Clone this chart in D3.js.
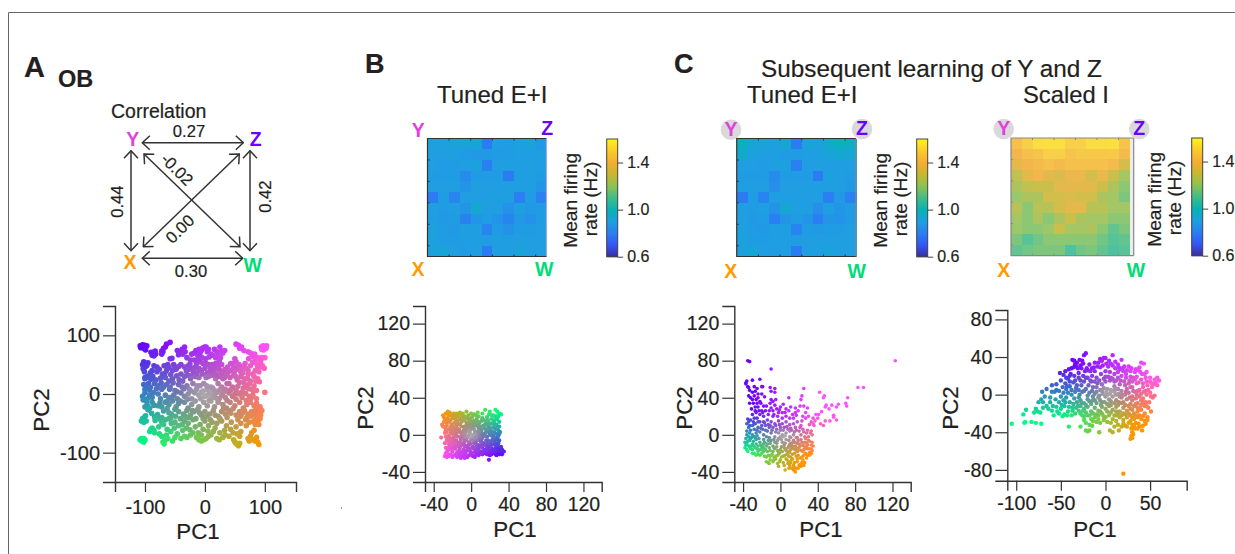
<!DOCTYPE html>
<html>
<head>
<meta charset="utf-8">
<script src="https://cdn.jsdelivr.net/npm/d3@7"></script>
<style>
  html, body { margin: 0; padding: 0; background: #fff; }
  svg { display: block; font-family: "Liberation Sans", Arial, sans-serif; }
  text { fill: #231f20; stroke: #231f20; stroke-width: 0.2px; }
</style>
</head>
<body>
<div id="figure"></div>
<script>
// firing rate colour bar
var cbarValues = [0.6, 0.7, 0.8, 0.9, 1.0, 1.1, 1.2, 1.3, 1.4, 1.5, 1.6];
var cbarColors = ["#3a2c9c", "#3556f5", "#2a7ff2", "#1f9fe2", "#06b3b6", "#3cbd8a", "#8cc254", "#c6b830", "#f4ad32", "#fbca2c", "#fdf41a"];
var cbarTicks = [0.6, 1.0, 1.4];

// mean firing rate on the 11x11 stimulus grid, row 0 on top
var tunedB = [
  [0.90, 0.91, 0.92, 0.92, 0.93, 0.79, 0.90, 0.89, 0.91, 0.92, 0.88],
  [0.90, 0.90, 0.90, 0.89, 0.88, 0.88, 0.89, 0.89, 0.90, 0.90, 0.90],
  [0.90, 0.89, 0.89, 0.90, 0.91, 0.80, 0.90, 0.90, 0.90, 0.90, 0.90],
  [0.89, 0.89, 0.89, 0.84, 0.89, 0.89, 0.89, 0.79, 0.90, 0.90, 0.89],
  [0.90, 0.90, 0.90, 0.87, 0.90, 0.90, 0.90, 0.90, 0.90, 0.90, 0.87],
  [0.79, 0.89, 0.82, 0.90, 0.90, 0.90, 0.90, 0.90, 0.80, 0.89, 0.81],
  [0.90, 0.89, 0.90, 0.87, 0.94, 0.90, 0.90, 0.86, 0.90, 0.88, 0.89],
  [0.90, 0.88, 0.89, 0.81, 0.87, 0.89, 0.87, 0.82, 0.88, 0.86, 0.89],
  [0.91, 0.89, 0.88, 0.90, 0.90, 0.82, 0.89, 0.86, 0.89, 0.89, 0.90],
  [0.91, 0.89, 0.89, 0.90, 0.90, 0.89, 0.90, 0.90, 0.90, 0.90, 0.90],
  [0.91, 0.93, 0.90, 0.89, 0.90, 0.79, 0.90, 0.90, 0.92, 0.90, 0.90]
];
var tunedC = [
  [0.98, 0.93, 0.92, 0.91, 0.94, 0.79, 0.92, 0.91, 0.95, 0.98, 0.97],
  [0.95, 0.91, 0.90, 0.90, 0.89, 0.89, 0.90, 0.90, 0.92, 0.94, 0.93],
  [0.90, 0.90, 0.89, 0.90, 0.91, 0.80, 0.90, 0.90, 0.90, 0.90, 0.90],
  [0.89, 0.89, 0.89, 0.84, 0.89, 0.89, 0.89, 0.79, 0.91, 0.90, 0.89],
  [0.90, 0.90, 0.90, 0.85, 0.90, 0.90, 0.90, 0.90, 0.90, 0.90, 0.88],
  [0.79, 0.89, 0.82, 0.90, 0.90, 0.90, 0.90, 0.90, 0.80, 0.88, 0.81],
  [0.90, 0.89, 0.90, 0.86, 0.94, 0.90, 0.90, 0.85, 0.90, 0.87, 0.89],
  [0.90, 0.88, 0.89, 0.80, 0.87, 0.89, 0.87, 0.80, 0.87, 0.86, 0.89],
  [0.91, 0.89, 0.88, 0.90, 0.90, 0.82, 0.89, 0.88, 0.89, 0.89, 0.90],
  [0.91, 0.89, 0.89, 0.90, 0.90, 0.89, 0.90, 0.90, 0.90, 0.90, 0.90],
  [0.91, 0.93, 0.90, 0.89, 0.90, 0.79, 0.90, 0.90, 0.92, 0.90, 0.90]
];
var scaledC = [
  [1.44, 1.50, 1.54, 1.55, 1.55, 1.50, 1.50, 1.54, 1.54, 1.55, 1.46],
  [1.40, 1.44, 1.46, 1.50, 1.50, 1.46, 1.48, 1.48, 1.48, 1.48, 1.42],
  [1.36, 1.40, 1.42, 1.44, 1.42, 1.44, 1.44, 1.44, 1.44, 1.42, 1.32],
  [1.28, 1.36, 1.40, 1.36, 1.34, 1.38, 1.38, 1.32, 1.38, 1.30, 1.22],
  [1.24, 1.28, 1.30, 1.30, 1.36, 1.36, 1.36, 1.36, 1.30, 1.24, 1.18],
  [1.20, 1.24, 1.24, 1.32, 1.32, 1.34, 1.32, 1.32, 1.24, 1.22, 1.16],
  [1.26, 1.18, 1.26, 1.26, 1.32, 1.36, 1.36, 1.26, 1.26, 1.22, 1.22],
  [1.22, 1.18, 1.24, 1.18, 1.24, 1.30, 1.24, 1.22, 1.22, 1.18, 1.18],
  [1.20, 1.18, 1.18, 1.20, 1.30, 1.22, 1.22, 1.24, 1.18, 1.12, 1.16],
  [1.16, 1.10, 1.14, 1.18, 1.18, 1.18, 1.18, 1.18, 1.14, 1.10, 1.12],
  [1.12, 1.14, 1.16, 1.16, 1.16, 1.08, 1.14, 1.16, 1.12, 1.08, 1.10]
];

// PC1, PC2
var obPoints = [
  [-108,82],[-104,84],[-100,83],[-102,78],[-97,82],[-100,79],[-90,71],[-86,71],[-83,73],[-88,66],[-82,68],[-85,65],
  [-72,73],[-69,78],[-66,80],[-70,72],[-64,85],[-58,88],[-72,68],[-46,74],[-42,72],[-38,76],[-44,67],[-37,68],[-34,80],[-33,72],
  [-102,55],[-98,52],[-104,50],[-100,46],[-97,48],[-103,43],[-85,48],[-80,46],[-88,40],[-80,38],[-92,32],[-96,30],[-100,28],[-94,28],
  [-68,48],[-62,50],[-58,60],[-55,61],[-60,45],[-52,50],[-50,45],[-54,40],[-48,42],[-64,40],
  [-22,68],[-18,70],[-15,74],[-12,66],[-10,76],[-6,74],[-4,78],[-2,79],[0,80],[2,80],[-8,70],[4,72],[6,76],[10,68],[13,66],[16,76],[20,72],[25,80],[28,73],[22,66],[18,62],[26,62],[30,70],[33,74],
  [52,85],[56,83],[58,78],[61,80],[65,74],[72,72],[76,70],[94,80],[97,82],[100,80],[95,76],[102,78],[98,75],[103,82],
  [-30,62],[-24,58],[-18,58],[-14,52],[-8,55],[-3,52],[2,52],[6,50],[12,50],[18,52],[24,56],[28,50],[50,60],[52,55],[46,52],[84,58],[88,62],[95,62],[100,62],[80,54],[76,48],
  [-44,47],[-40,50],[-34,46],[-28,48],[-26,42],[-22,44],[-16,46],[-10,44],[-6,40],[0,44],[4,36],[10,40],[16,45],[22,42],[26,40],[30,36],[34,42],[38,46],[44,40],[48,45],[56,42],[62,46],[68,44],[72,40],[84,40],[88,44],[92,46],[96,48],[90,38],[80,34],[60,38],
  [-40,34],[-34,30],[-28,32],[-24,26],[-20,34],[-16,30],[-10,28],[-4,34],[2,28],[6,30],[12,32],[18,26],[24,30],[30,26],[36,32],[42,28],[48,32],[54,24],[60,30],[66,26],[72,34],[76,22],[82,30],[88,26],
  [-100,26],[-90,25],[-82,24],[-74,27],[-66,28],[-60,22],[-54,26],
  [-102,16],[-98,12],[-94,18],[-100,8],[-92,7],[-84,18],[-78,14],[-72,8],[-64,16],[-58,12],[-50,6],[-44,16],[-38,12],[-30,14],[-26,8],[-20,18],[-14,8],[-8,14],[-2,18],[4,8],[10,12],[16,6],[22,18],[28,12],[34,8],[40,18],[46,12],[52,6],[58,20],[64,10],[70,14],[74,18],[78,8],[82,14],[86,6],[100,3],
  [-104,-4],[-100,2],[-96,-8],[-92,-2],[-88,-6],[-86,2],[-78,0],[-74,-8],[-66,-2],[-60,-6],[-52,-2],[-46,-8],[-40,2],[-34,-4],[-28,0],[-22,-8],[-10,-2],[-6,3],[0,-4],[4,-2],[8,2],[12,-6],[16,-1],[20,3],[24,-8],[28,-2],[34,-6],[40,2],[46,-4],[52,-9],[56,0],[62,-6],[68,1],[74,-4],[80,-2],[86,-8],
  [-100,-22],[-96,-20],[-92,-24],[-88,-14],[-78,-20],[-72,-22],[-66,-14],[-60,-18],[-54,-12],[-48,-22],[-44,-16],[-34,-14],[-28,-24],[-22,-18],[-16,-12],[-10,-22],[-2,-14],[4,-20],[10,-12],[16,-22],[22,-14],[30,-18],[36,-24],[42,-14],[50,-20],[58,-14],[64,-24],[70,-18],[76,-14],[82,-20],[88,-24],[92,-22],[86,-16],
  [-60,-32],[-56,-34],[-50,-26],[-44,-30],[-36,-34],[-30,-28],[-24,-36],[-18,-30],[-12,-26],[-6,-36],[0,-30],[8,-34],[14,-28],[22,-38],[28,-30],[34,-34],[40,-28],[52,-36],[58,-30],[60,-38],[66,-28],[72,-34],[78,-30],[84,-36],[90,-32],[70,-40],[84,-28],
  [-106,-46],[-104,-42],[-101,-40],[-102,-48],[-98,-46],[-84,-39],[-78,-42],[-72,-40],[-66,-44],[-72,-48],[-60,-42],[-56,-50],[-50,-48],[-44,-54],[-38,-52],[-34,-46],[-28,-50],[-20,-44],[-16,-56],[-8,-52],[0,-46],[6,-54],[12,-48],[20,-50],[28,-46],[36,-54],[44,-48],[52,-56],[60,-50],[68,-44],[74,-48],[84,-44],[88,-48],[90,-52],[84,-52],[92,-42],
  [-108,-78],[-105,-80],[-102,-82],[-100,-78],[-106,-76],[-102,-76],[-90,-60],[-88,-58],[-85,-62],[-92,-64],[-84,-66],
  [-76,-68],[-72,-72],[-70,-82],[-68,-85],[-66,-78],[-64,-70],[-62,-76],[-54,-80],[-50,-74],[-46,-68],[-40,-76],[-34,-72],[-30,-74],
  [-24,-70],[-20,-66],[-14,-74],[-10,-78],[-6,-80],[-2,-78],[2,-76],[-6,-70],[6,-72],[10,-70],[14,-64],[20,-76],[24,-78],[30,-74],[34,-70],[40,-72],[48,-78],[50,-82],[54,-86],[56,-88],[52,-84],[58,-84],[58,-72],[60,-64],[54,-68],
  [74,-80],[76,-72],[78,-66],[80,-78],[84,-80],[88,-82],[90,-86],[86,-74],[82,-62],[72,-76],
  [-107,79],[-99,75],[-95,53],[-101,38],[-91,36],[-87,30],[-76,42],[-71,34],[-73,19],[-67,35],[-57,33],[-53,19],[-47,31],[-43,24],[-37,22],[-31,39],[-25,51],[-19,39],[-13,36],[-11,60],[-5,62],[1,60],[7,63],[9,44],[15,37],[19,33],[23,48],[27,34],[33,28],[37,18],[39,37],[43,52],[49,38],[51,30],[53,46],[57,50],[63,36],[67,52],[71,27],[73,60],[79,64],[83,68],[87,50],[93,56],[99,44],[91,21],[85,22],[81,5],[77,-7],[73,9],[69,-11],[65,19],[61,3],[55,13],[49,-1],[43,7],[37,-11],[31,3],[25,7],[19,-7],[13,10],[7,-11],[3,14],[-3,5],[-7,-8],[-13,14],[-17,2],[-23,5],[-29,-9],[-35,9],[-41,-12],[-47,4],[-55,-5],[-59,8],[-63,-12],[-69,12],[-75,-15],[-81,9],[-85,-19],[-91,12],[-97,-13],[-103,-10],[-95,-27],[-99,-37],[-89,-33],[-83,-45],[-79,-35],[-69,-29],[-63,-25],[-57,-41],[-49,-38],[-41,-42],[-33,-38],[-27,-40],[-21,-28],[-15,-42],[-9,-32],[-3,-42],[3,-38],[9,-44],[17,-36],[25,-42],[31,-25],[37,-40],[43,-33],[47,-25],[55,-44],[63,-32],[69,-54],[77,-38],[81,-47],[89,-40],[93,-36],[95,-28],[-37,-62],[-31,-58],[-25,-61],[-11,-66],[-3,-60],[5,-63],[17,-58],[25,-66],[33,-62],[43,-60],[47,-66],[-51,-58],[-57,-64],[-63,-60],[-77,-56],[-69,-52]
];
var tunedPoints = [
  [-30,21],[-27,23],[-25,25],[-24,21],[-22,21],[-19,23],[-16,23],[-14,22],[-12,24],[-5,25],[-3,21],[0,23],[3,22],[5,21],[8,20],[12,23],[15,27],[20,25],[22,21],[26,27],[28,25],[30,23],[27,20],[24,21],[-20,20],[-10,21],[-7,20],
  [-28,17],[-25,18],[-22,16],[-20,18],[-17,17],[-15,15],[-12,18],[-10,14],[-7,16],[-4,18],[-2,15],[1,19],[3,15],[6,17],[9,13],[12,18],[15,15],[17,19],[19,13],[22,17],[25,15],[28,17],[30,14],[26,19],[-26,13],[-18,13],[-5,13],
  [-31,11],[-28,8],[-26,10],[-24,6],[-21,11],[-19,7],[-16,10],[-13,6],[-10,9],[-8,5],[-5,10],[-2,7],[0,11],[3,6],[5,10],[8,7],[11,4],[13,10],[16,6],[18,10],[21,5],[24,8],[27,11],[29,5],[30,9],[22,12],
  [-26,3],[-24,-1],[-22,2],[-19,-3],[-17,1],[-14,-2],[-12,3],[-9,-1],[-6,2],[-4,-3],[-1,1],[2,-2],[4,3],[7,-1],[9,2],[12,-3],[14,1],[17,-2],[19,3],[22,-1],[25,2],[28,-3],[30,1],[-32,-3],[-27,-2],
  [-26,-6],[-24,-10],[-21,-5],[-19,-9],[-16,-6],[-14,-11],[-11,-5],[-8,-9],[-5,-6],[-3,-11],[0,-5],[3,-9],[6,-6],[8,-11],[11,-5],[13,-9],[16,-6],[18,-11],[21,-7],[24,-10],[27,-5],[29,-9],[30,-6],[-22,-11],
  [-27,-14],[-25,-17],[-22,-13],[-20,-18],[-17,-15],[-15,-19],[-12,-14],[-10,-18],[-7,-13],[-5,-17],[-2,-15],[0,-19],[2,-13],[5,-17],[7,-14],[10,-18],[12,-14],[14,-17],[17,-13],[19,-18],[22,-15],[24,-19],[26,-14],[28,-17],[30,-19],[32,-13],[33,-16],[34,-18],[31,-15],
  [-28,-23],[-26,-24],[-25,-21],[-27,-20],[-22,-21],[-18,-22],[-15,-24],[-13,-22],[-11,-25],[-9,-23],[-6,-21],[-4,-24],[-2,-22],[2,-23],[5,-21],[8,-22],[12,-21],[15,-20],[19,-27],[22,-21],[25,-20],[28,-20],[33,-21],[35,-18],
  [-23,14],[-20,9],[-17,5],[-14,12],[-11,16],[-9,3],[-7,9],[-3,12],[-1,5],[1,14],[4,12],[6,3],[10,9],[14,7],[16,12],[20,8],[23,3],[26,6],[28,1],[-25,-4],[-20,-7],[-16,-1],[-12,-8],[-8,-4],[-6,-12],[-2,-8],[1,-3],[4,-7],[6,-12],[9,-4],[12,-9],[15,-1],[18,-6],[20,-10],[23,-5],[26,-9],[-24,-14],[-18,-11],[-13,-17],[-8,-16],[-4,-13],[-1,-18],[3,-15],[8,-16],[11,-12],[15,-16],[20,-14],[23,-17],[27,-12],[29,-13],[-29,14],[-27,5],[-22,8],[-15,20],[-8,18],[1,8],[7,14],[13,16],[18,16],[24,13],[28,9],[-10,0],[-3,-1],[4,0],[10,-1],[-18,3],[-5,5],[12,1],[20,0],[25,-3],[-19,-14],[-9,-20],[6,-19],[16,-19],[26,-18],
  [-29,19],[-23,24],[-17,20],[-9,23],[-1,17],[7,24],[11,15],[19,22],[29,20],[32,22],[-30,9],[-25,15],[-21,5],[-15,7],[-12,11],[-6,7],[-3,9],[2,9],[7,10],[10,6],[15,11],[19,7],[25,11],[31,3],[-28,2],[-23,-3],[-20,1],[-15,3],[-11,-3],[-7,-1],[-2,3],[1,0],[5,-3],[8,4],[13,-1],[16,3],[21,2],[24,-1],[29,-1],[-28,-9],[-23,-7],[-18,-5],[-15,-8],[-10,-11],[-7,-7],[-1,-10],[2,-6],[5,-9],[10,-7],[14,-11],[17,-9],[22,-11],[25,-7],[28,-11],[-26,-19],[-21,-16],[-16,-13],[-11,-20],[-6,-19],[-3,-15],[1,-14],[4,-19],[9,-13],[13,-19],[18,-15],[21,-19],[25,-16],[29,-16],[32,-17],[-24,-23],[-20,-24],[-16,-21],[-7,-25],[0,-21],[4,-24],[10,-20],[17,-21],[20,-22],[27,-22],[30,-21]
];
var learnedTunedPoints = [
  [-35,80],[-33,79],[123,80],[83,51],[89,51],[-10,71],[-22,60],[-36,58],[-37,55],[-30,59],[-35,52],[-37,56],
  [-34,51],[-33,48],[-28,52],[-25,50],[-20,52],[-19,52],[-11,51],[-6,50],[-10,47],[-6,46],[-30,46],[-27,47],[-24,44],[-20,44],[-17,41],[-34,42],[-32,40],[-30,38],[-28,42],[-26,38],[-24,40],[-22,36],[-29,34],[-25,34],[-21,34],[-18,31],[-24,30],[-27,30],[-5,38],[-8,36],[-10,38],[9,40],[25,50],[42,46],[47,42],[46,40],[23,42],[22,38],[-6,32],[-10,29],[-12,26],[-8,26],[-4,28],[0,30],[3,33],[6,28],[2,24],[-2,24],[5,24],[9,26],[13,22],[16,24],[16,29],[19,26],[14,18],[10,18],[6,20],[2,18],[-3,20],[-8,20],[-13,22],[-16,26],[-20,26],[-18,20],[-22,22],[-26,24],[-30,22],[-34,14],[-32,16],[-28,18],[-25,18],[-22,14],[-18,14],[-14,16],[-10,14],[-6,12],[-2,15],[2,12],[6,14],[10,11],[14,12],[18,14],[22,10],[24,20],[27,24],[21,31],[25,31],[29,29],[30,20],[33,14],[36,10],[38,22],[40,18],[43,12],[46,10],[48,15],[44,25],[48,30],[52,28],[57,21],[53,15],[60,16],[57,19],[55,32],[62,33],[60,30],[72,40],[70,34],[71,31],[49,32],[35,12],
  [-36,12],[-34,8],[-32,5],[-36,4],[-30,10],[-27,12],[-24,8],[-28,6],[-20,10],[-16,10],[-12,8],[-8,8],[-4,6],[0,8],[4,8],[8,6],[12,5],[16,8],[20,4],[24,6],[28,2],[32,2],[-36,0],[-34,-2],[-30,0],[-26,2],[-22,3],[-18,0],[-14,4],[-10,2],[-6,-2],[-2,2],[2,0],[6,2],[10,-2],[14,0],[18,-3],[22,0],[26,-2],[30,-2],[34,0],[-38,-8],[-36,-10],[-33,-6],[-30,-10],[-26,-5],[-22,-8],[-18,-5],[-14,-10],[-10,-6],[-6,-8],[-2,-4],[2,-8],[6,-5],[10,-10],[14,-6],[18,-9],[22,-5],[26,-8],[30,-6],[34,-8],[35,-12],
  [-38,-14],[-36,-16],[-33,-13],[-30,-16],[-27,-14],[-24,-18],[-20,-13],[-16,-16],[-12,-14],[-8,-18],[-4,-13],[0,-16],[4,-14],[8,-18],[12,-13],[16,-16],[20,-14],[24,-18],[28,-13],[31,-15],[34,-17],[-35,-18],[-28,-20],[-24,-21],[-20,-20],[-17,-23],[-13,-22],[-9,-21],[-5,-23],[-1,-20],[3,-23],[7,-21],[11,-24],[15,-20],[19,-22],[23,-24],[27,-20],[31,-19],[33,-20],
  [-15,-29],[-13,-30],[-11,-27],[-8,-29],[-5,-26],[-3,-31],[-2,-34],[0,-27],[3,-30],[6,-26],[9,-29],[12,-27],[15,-30],[18,-26],[21,-32],[24,-27],[26,-30],[5,-38],[9,-36],[12,-36],[14,-38],[16,-40],[17,-36],[20,-33],[22,-34],[25,-33],[15,-35],[10,-33],[28,-25],
  [-32,-4],[-28,-2],[-24,-12],[-18,-10],[-12,-3],[-8,-12],[-4,-9],[0,-2],[4,-11],[8,-14],[12,-9],[16,-12],[20,-10],[24,-11],[28,-9],[-20,-16],[-14,-18],[-6,-15],[-2,-19],[2,-18],[6,-17],[10,-19],[14,-15],[18,-18],[22,-17],[26,-15],[0,5],[5,-1],[-5,3],[10,4],[15,3],[-15,-2],[-25,-1],[-33,2],[-31,-12],[-26,-10],[-16,5],[-11,10],[-24,14],[-28,12],[-19,6],
  [-33,34],[-31,28],[-27,26],[-23,26],[-19,24],[-15,31],[-11,34],[-7,22],[-1,27],[11,30],[17,21],[23,15],[27,18],[31,11],[37,15],[41,22],[35,18],[-35,17],[-33,10],[-29,14],[-25,5],[-21,7],[-17,13],[-13,11],[-9,5],[-5,10],[-1,11],[3,5],[7,9],[11,7],[17,5],[21,8],[25,3],[29,5],[33,4],[-37,-4],[-35,-7],[-31,-3],[-29,-7],[-27,-3],[-23,-4],[-21,-11],[-17,-8],[-13,-6],[-11,-9],[-7,-5],[-3,-6],[1,-5],[3,-2],[5,-9],[9,-6],[11,-3],[13,-12],[15,-8],[17,-3],[19,-6],[23,-8],[25,-12],[27,-4],[29,-11],[31,-7],[33,-11],[-37,-11],[-34,-12],[-32,-15],[-29,-12],[-25,-15],[-22,-16],[-18,-14],[-15,-12],[-11,-17],[-7,-14],[-3,-17],[1,-13],[5,-15],[9,-12],[11,-16],[13,-21],[17,-14],[19,-17],[21,-12],[25,-16],[29,-15],[33,-15],[-30,-20],[-26,-22],[-22,-22],[-18,-18],[-15,-24],[-11,-23],[-7,-24],[-3,-22],[1,-24],[5,-22],[9,-23],[13,-26],[17,-23],[21,-25],[25,-22],[29,-22],[31,-22],[-12,-31],[-7,-27],[-1,-29],[4,-33],[8,-31],[11,-30],[14,-33],[18,-29],[23,-30],[19,-36],[7,-27]
];
var scaledPoints = [
  [20,-84],[-105,-31],[-92,-21],[-91,-30],[-90,-29],[-89,-16],[-83,-29],[-78,-30],[-72,-31],[-80,-19],[-78,-15],[-76,-18],[-73,-19],[-72,-5],[-75,-8],[-70,-8],[-66,-12],[-71,3],[-66,6],[-70,-14],[-64,-15],[-60,-17],[-58,-22],[-48,-23],[-46,-21],[-52,-20],[-41,-34],[-28,-34],[-22,-38],[-20,-39],[-18,-38],[-7,-40],[5,-38],[8,-40],[15,-38],
  [-37,37],[-35,36],[-32,34],[-29,37],[-24,42],[-22,44],[-26,36],[-28,31],[-33,30],[-36,29],[-38,28],[-41,27],[-47,21],[-51,23],[-45,25],[-50,15],[-55,11],[-42,17],[-40,14],[-35,20],[-30,23],[-23,25],[-20,26],[-15,28],[-12,25],[-9,30],[-6,38],[-4,36],[-2,39],[0,39],[4,36],[8,42],[14,32],[18,37],[21,30],[26,30],[-12,34],[-18,32],[-6,29],[3,30],[8,31],[11,28],[16,27],[20,25],[24,26],[28,25],[33,24],[37,26],[40,34],[43,33],[39,24],[44,22],[-15,20],[-10,18],[-5,22],[0,25],[5,24],[10,22],[14,18],[18,20],[23,18],[27,15],[31,18],[35,12],[40,16],[45,18],[50,18],[55,16],[58,18],[60,15],[58,10],[52,12],[47,10],[42,8],[38,5],[33,3],[28,8],[22,10],[16,11],[10,14],[5,15],[0,14],[-4,11],[-9,12],[-14,8],[-19,10],[-24,14],[-28,15],[-32,10],[-36,13],[-40,9],[-44,6],[-48,8],[-52,4],[-57,3],[-60,3],[-62,-3],
  [-50,-2],[-47,-6],[-44,-3],[-52,-8],[-42,2],[-38,0],[-34,3],[-30,-3],[-26,3],[-22,6],[-18,2],[-14,-2],[-10,3],[-6,5],[-2,7],[2,6],[6,5],[10,3],[14,6],[18,4],[22,0],[26,2],[30,-2],[34,-4],[38,-2],[42,-4],[46,0],[50,2],[53,-3],[49,-8],[45,-8],[-40,-8],[-36,-10],[-32,-8],[-28,-6],[-24,-9],[-20,-5],[-16,-10],[-12,-6],[-8,-3],[-4,-8],[0,-2],[4,-5],[8,-2],[12,-6],[16,-2],[20,-8],[24,-5],[28,-10],[32,-12],[36,-9],[40,-11],[44,-12],[48,-14],[51,-18],
  [-55,-13],[-50,-15],[-46,-12],[-42,-18],[-38,-22],[-34,-20],[-28,-12],[-24,-15],[-20,-13],[-16,-18],[-12,-14],[-8,-17],[-4,-13],[0,-15],[4,-12],[8,-16],[12,-13],[16,-18],[20,-14],[24,-17],[28,-15],[32,-20],[36,-18],[40,-16],[44,-20],[47,-24],
  [-28,-20],[-24,-23],[-20,-22],[-16,-26],[-12,-24],[-8,-26],[-4,-20],[0,-24],[4,-22],[8,-26],[12,-22],[16,-24],[20,-27],[24,-24],[28,-22],[32,-26],[36,-24],[40,-26],[44,-28],[47,-27],
  [-22,-30],[-18,-32],[-14,-28],[-10,-29],[-2,-27],[6,-30],[10,-34],[14,-32],[18,-34],[22,-33],[26,-30],[30,-32],[34,-30],[38,-34],[41,-38],[36,-36],[32,-33],[29,-36],[30,-40],[29,-44],[31,-42],[28,-47],[30,-46],
  [-10,8],[-3,1],[2,0],[6,-7],[12,0],[18,-3],[-6,-6],[10,9],[15,-8],[24,6],[30,8],[36,4],[-16,14],[-20,18],[-25,20],[0,19],[6,18],[14,24],[28,19],[35,19],[-30,5],[-35,-4],[-45,12],[-40,20],[-55,5],[-25,-17],[-33,-14],[22,-21],[30,-16],[40,-6],[45,4],[52,8],[-8,-22],[2,-18],[12,-18],[20,-20],[36,-14],
  [-34,32],[-31,28],[-27,28],[-25,33],[-21,28],[-17,25],[-13,29],[-8,34],[-3,31],[1,33],[6,33],[11,35],[15,29],[19,28],[23,22],[29,28],[34,27],[38,29],[41,22],[46,24],[-44,18],[-39,22],[-34,15],[-30,18],[-27,10],[-22,18],[-17,15],[-12,14],[-7,15],[-2,17],[3,19],[8,17],[12,15],[17,15],[21,14],[26,12],[30,14],[33,16],[37,13],[42,12],[46,14],[50,14],[54,11],[56,13],[-47,2],[-43,9],[-38,5],[-33,7],[-29,0],[-24,4],[-20,-1],[-15,4],[-12,1],[-7,-1],[-4,4],[1,3],[5,1],[8,4],[11,6],[15,1],[19,0],[23,3],[27,-3],[31,4],[35,0],[40,1],[43,3],[48,5],[51,-2],[55,-1],[-49,-11],[-45,-8],[-41,-13],[-37,-14],[-31,-12],[-27,-9],[-22,-11],[-18,-7],[-14,-6],[-10,-9],[-5,-11],[-1,-8],[2,-10],[6,-11],[10,-9],[14,-11],[18,-9],[22,-11],[26,-12],[30,-6],[34,-10],[38,-14],[42,-8],[46,-12],[-43,-22],[-37,-17],[-30,-17],[-26,-22],[-22,-19],[-18,-22],[-14,-20],[-10,-21],[-6,-18],[-2,-23],[6,-19],[10,-22],[14,-20],[18,-22],[26,-20],[30,-24],[34,-22],[38,-22],[42,-23],[-24,-27],[-15,-33],[-6,-30],[2,-29],[12,-28],[20,-31],[24,-34],[28,-28],[33,-36],[37,-31],[42,-33],[45,-31],[-62,-8],[-59,-12],[-56,-5],[-68,-2],[-60,10],[-54,-18]
];

var pc1TicksOb = [-100, 0, 100], pc2TicksOb = [-100, 0, 100];
var pc1TicksTuned = [-40, 0, 40, 80, 120], pc2TicksTuned = [-40, 0, 40, 80, 120];
var pc1TicksScaled = [-100, -50, 0, 50], pc2TicksScaled = [-80, -40, 0, 40, 80];

// correlations between the four corners
var corrEdges = [
  {a: [142.3, 142.7], b: [243.3, 142.7], label: "0.27", at: [189, 137], rot: 0},
  {a: [142.3, 258.3], b: [242.7, 258.3], label: "0.30", at: [191, 277], rot: 0},
  {a: [131, 150.7], b: [131, 250.7], label: "0.44", at: [123, 201.7], rot: -90},
  {a: [250, 150.7], b: [250, 250.7], label: "0.42", at: [270.5, 196.7], rot: -90},
  {a: [144, 154], b: [240, 246.7], label: "-0.02", at: [173, 173.5], rot: 45},
  {a: [239.3, 154], b: [143.3, 246.7], label: "0.00", at: [184, 233], rot: -45}
];

var cornerColors = {Y: "#e23fe0", Z: "#6a00ff", X: "#ff9a00", W: "#00dc78"};

var svg = d3.select("#figure").append("svg")
  .attr("width", 1235)
  .attr("height", 554);

// frame of the figure, open on the right and bottom
svg.append("path")
  .attr("d", "M8.5,554V12.5H1235")
  .attr("fill", "none")
  .attr("stroke", "#666")
  .attr("stroke-width", 1);
svg.append("rect").attr("x", 341).attr("y", 507).attr("width", 1).attr("height", 2).attr("fill", "#999");

function addText(str, x, y, size, opts) {
  opts = opts || {};
  var t = svg.append("text")
    .attr("x", x)
    .attr("y", y)
    .attr("font-size", size)
    .attr("font-weight", opts.bold ? "bold" : null)
    .attr("text-anchor", opts.anchor || "start")
    .text(str);
  if (opts.fill) t.style("fill", opts.fill).style("stroke", "none");
  return t;
}

addText("A", 24, 77, 29, {bold: true});
addText("OB", 58, 87, 23.5, {bold: true});
addText("B", 365, 73, 27, {bold: true});
addText("C", 674, 73, 27, {bold: true});
addText("Correlation", 111, 118, 19.5);
addText("Subsequent learning of Y and Z", 761, 77, 24.3);
addText("Tuned E+I", 437, 103, 24);
addText("Tuned E+I", 747, 103, 24);
addText("Scaled I", 1023, 103, 23.8);

// arrows of the correlation diagram
svg.append("defs").append("marker")
  .attr("id", "vee")
  .attr("viewBox", "-10 -8 11 16")
  .attr("refX", 0)
  .attr("refY", 0)
  .attr("markerWidth", 11)
  .attr("markerHeight", 16)
  .attr("markerUnits", "userSpaceOnUse")
  .attr("orient", "auto-start-reverse")
  .append("path")
  .attr("d", "M-7.5,-7L0,0L-7.5,7")
  .attr("fill", "none")
  .attr("stroke", "#333")
  .attr("stroke-width", 1.5);

svg.selectAll(".edge")
  .data(corrEdges)
  .enter()
  .append("line")
  .attr("class", "edge")
  .attr("x1", d => d.a[0])
  .attr("y1", d => d.a[1])
  .attr("x2", d => d.b[0])
  .attr("y2", d => d.b[1])
  .attr("stroke", "#333")
  .attr("stroke-width", 1.5)
  .attr("marker-start", "url(#vee)")
  .attr("marker-end", "url(#vee)");

svg.selectAll(".edgeLabel")
  .data(corrEdges)
  .enter()
  .append("text")
  .attr("class", "edgeLabel")
  .attr("text-anchor", "middle")
  .attr("font-size", 16.6)
  .attr("transform", d => `translate(${d.at[0]},${d.at[1]}) rotate(${d.rot})`)
  .text(d => d.label);

function cornerLabels(list, size, halo) {
  list.forEach(function(c) {
    if (halo && (c[0] === "Y" || c[0] === "Z")) {
      svg.append("circle")
        .attr("cx", c[1])
        .attr("cy", c[2] - 6)
        .attr("r", 10.3)
        .attr("fill", "#d9d9d9");
    }
    addText(c[0], c[1], c[2], size, {bold: true, anchor: "middle", fill: cornerColors[c[0]]});
  });
}

cornerLabels([["Y", 132.7, 145.7], ["Z", 255.7, 145.7], ["X", 130, 269], ["W", 252.7, 271.7]], 19.5);
cornerLabels([["Y", 418.3, 137], ["Z", 547.3, 135], ["X", 418, 275.7], ["W", 544.3, 275.7]], 19.5);
cornerLabels([["Y", 731, 135.7], ["Z", 862, 135], ["X", 730.7, 278], ["W", 856.7, 278]], 19.5, true);
cornerLabels([["Y", 1003.7, 135], ["Z", 1139.3, 135], ["X", 1003.7, 276.7], ["W", 1136, 276.7]], 19.5, true);

var rateColor = d3.scaleLinear().domain(cbarValues).range(cbarColors).interpolate(d3.interpolateRgb);

function heatmap(values, box, opacity) {
  var idx = d3.range(values.length);
  var x = d3.scaleBand().domain(idx).range([box.left, box.cellRight]);
  var y = d3.scaleBand().domain(idx).range([box.top, box.bottom]);

  var g = svg.append("g");
  g.append("rect")
    .attr("x", box.left)
    .attr("y", box.top)
    .attr("width", box.right - box.left)
    .attr("height", box.bottom - box.top)
    .attr("fill", "#ececec");

  var cells = g.append("g").attr("opacity", opacity).attr("shape-rendering", "crispEdges");
  values.forEach(function(row, r) {
    cells.selectAll(null)
      .data(row)
      .enter()
      .append("rect")
      .attr("x", (d, c) => x(c))
      .attr("y", y(r))
      .attr("width", x.bandwidth() + 0.6)
      .attr("height", y.bandwidth() + 0.6)
      .attr("fill", d => rateColor(d));
  });

  // little inner ticks every second cell
  var tickPos = d3.range(2, 11, 2);
  g.selectAll(null).data(tickPos).enter().append("line")
    .attr("x1", d => x(d))
    .attr("x2", d => x(d))
    .attr("y1", box.bottom)
    .attr("y2", box.bottom - 2)
    .attr("stroke", box.stroke);
  g.selectAll(null).data(tickPos).enter().append("line")
    .attr("x1", d => x(d))
    .attr("x2", d => x(d))
    .attr("y1", box.top)
    .attr("y2", box.top + 2)
    .attr("stroke", box.stroke);
  g.selectAll(null).data(tickPos).enter().append("line")
    .attr("y1", d => y(d))
    .attr("y2", d => y(d))
    .attr("x1", box.left)
    .attr("x2", box.left + 2)
    .attr("stroke", box.stroke);

  g.append("path")
    .attr("d", `M${box.right},${box.top}H${box.left}V${box.bottom}H${box.right}`)
    .attr("fill", "none")
    .attr("stroke", box.stroke)
    .attr("stroke-width", 1.2);
  g.append("path")
    .attr("d", `M${box.right},${box.top}V${box.bottom}`)
    .attr("fill", "none")
    .attr("stroke", box.sideStroke)
    .attr("stroke-width", 1.2);
}

function colorbar(xLeft, top, bottom, labelX) {
  var scale = d3.scaleLinear().domain([0.6, 1.6]).range([bottom, top]);
  var steps = d3.range(0, 118);
  var g = svg.append("g");
  g.selectAll("rect")
    .data(steps)
    .enter()
    .append("rect")
    .attr("x", xLeft)
    .attr("width", 11)
    .attr("y", d => scale(0.6 + (d + 1) / 118))
    .attr("height", (bottom - top) / 118 + 0.5)
    .attr("fill", d => rateColor(0.6 + (d + 0.5) / 118));
  g.append("rect")
    .attr("x", xLeft)
    .attr("y", top)
    .attr("width", 11)
    .attr("height", bottom - top)
    .attr("fill", "none")
    .attr("stroke", "#444")
    .attr("stroke-width", 1);

  var axis = d3.axisRight(scale)
    .tickValues(cbarTicks)
    .tickFormat(d3.format(".1f"))
    .tickSize(5.5)
    .tickSizeOuter(0)
    .tickPadding(4);
  var ag = g.append("g")
    .attr("transform", `translate(${xLeft + 11},0)`)
    .call(axis);
  ag.select(".domain").remove();
  ag.selectAll("line").attr("stroke", "#444");
  ag.selectAll("text")
    .attr("font-size", 16)
    .attr("font-family", "Liberation Sans");

  var mid = (top + bottom) / 2 + 2.5;
  svg.append("text")
    .attr("transform", `translate(${labelX},${mid}) rotate(-90)`)
    .attr("text-anchor", "middle")
    .attr("font-size", 19.2)
    .text("Mean firing");
  svg.append("text")
    .attr("transform", `translate(${labelX + 20},${mid - 1.5}) rotate(-90)`)
    .attr("text-anchor", "middle")
    .attr("font-size", 19.2)
    .text("rate (Hz)");
}

heatmap(tunedB, {left: 427.5, right: 546.5, cellRight: 546.5, top: 138.5, bottom: 256.5, stroke: "#333", sideStroke: "#aac"}, 1);
colorbar(606.7, 139, 256.7, 577);
heatmap(tunedC, {left: 736.7, right: 856, cellRight: 856, top: 138.5, bottom: 256.5, stroke: "#333", sideStroke: "#888"}, 1);
colorbar(916.7, 139, 256.7, 886.7);
heatmap(scaledC, {left: 1011, right: 1133.7, cellRight: 1129.3, top: 138, bottom: 255.7, stroke: "#888", sideStroke: "#888"}, 0.85);
colorbar(1191.7, 138, 255.7, 1160.7);

// colour of a point from where it sits relative to the grey centre of the cloud
var cTopLeft = d3.rgb("#6a00ff"), cTopRight = d3.rgb("#ff50ff"), cBottomLeft = d3.rgb("#00ff80"), cBottomRight = d3.rgb("#ff9500");
var cCentre = d3.rgb("#ababab");

function mix(a, b, t) {
  return {r: a.r + (b.r - a.r) * t, g: a.g + (b.g - a.g) * t, b: a.b + (b.b - a.b) * t};
}

function pointColor(u, v) {
  u = Math.max(-1, Math.min(1, u));
  v = Math.max(-1, Math.min(1, v));
  var top = mix(cTopLeft, cTopRight, (u + 1) / 2);
  var bottom = mix(cBottomLeft, cBottomRight, (u + 1) / 2);
  var c = mix(bottom, top, (v + 1) / 2);
  var r = Math.sqrt(u * u + v * v);
  c = mix(cCentre, c, Math.min(1, r / 0.42));
  return d3.rgb(c.r, c.g, c.b).formatHex();
}

function scatter(points, cfg) {
  var x = d3.scaleLinear().domain(cfg.xDom).range(cfg.xRange);
  var y = d3.scaleLinear().domain(cfg.yDom).range(cfg.yRange);
  var g = svg.append("g");

  g.selectAll("circle")
    .data(points)
    .enter()
    .append("circle")
    .attr("cx", d => x(d[0]))
    .attr("cy", d => y(d[1]))
    .attr("r", cfg.r)
    .attr("fill", d => cfg.colorOf(d[0], d[1]));

  // plain hyphen on the negative ticks, as in the figure
  var fmt = d3.format("-d");
  var bottomAxis = d3.axisBottom(x).tickValues(cfg.xTicks).tickFormat(d => String(fmt(d)).replace("\u2212", "-")).tickSizeOuter(0).tickSize(10).tickPadding(cfg.xPad);
  var leftAxis = d3.axisLeft(y).tickValues(cfg.yTicks).tickFormat(d => String(fmt(d)).replace("\u2212", "-")).tickSizeOuter(0).tickSize(12).tickPadding(cfg.yPad);

  [[bottomAxis, `translate(0,${cfg.yRange[0]})`], [leftAxis, `translate(${cfg.xRange[0]},0)`]].forEach(function(a) {
    var ag = g.append("g").attr("transform", a[1]).call(a[0]);
    ag.select(".domain").attr("stroke", "#333").attr("stroke-width", 1.4);
    ag.selectAll("line").attr("stroke", "#333").attr("stroke-width", 1.2);
    ag.selectAll("text")
      .attr("font-size", cfg.tickSize)
      .attr("font-family", "Liberation Sans")
      .style("fill", "#231f20");
  });

  svg.append("text")
    .attr("x", cfg.xLabel[0])
    .attr("y", cfg.xLabel[1])
    .attr("text-anchor", "middle")
    .attr("font-size", 22.3)
    .text("PC1");
  svg.append("text")
    .attr("transform", `translate(${cfg.yLabel[0]},${cfg.yLabel[1]}) rotate(-90)`)
    .attr("text-anchor", "middle")
    .attr("font-size", 22.3)
    .text("PC2");
}

scatter(obPoints, {
  xDom: [-150, 152], xRange: [115, 296], yDom: [-150, 150], yRange: [482, 306],
  xTicks: pc1TicksOb, yTicks: pc2TicksOb, r: 2.8, tickSize: 20, xPad: 8, yPad: 3,
  xLabel: [198, 539], yLabel: [49.3, 410],
  colorOf: (a, b) => pointColor(a / 100, b / 85)
});
scatter(tunedPoints, {
  xDom: [-49.3, 139.5], xRange: [425, 601.7], yDom: [-50.9, 139], yRange: [482, 306],
  xTicks: pc1TicksTuned, yTicks: pc2TicksTuned, r: 2.1, tickSize: 19.5, xPad: 5, yPad: 3,
  xLabel: [515, 537], yLabel: [373.3, 408],
  colorOf: (a, b) => pointColor(-a / 30, -b / 24)
});
scatter(learnedTunedPoints, {
  xDom: [-49.4, 139.5], xRange: [734.3, 910.7], yDom: [-50.9, 139], yRange: [482, 306],
  xTicks: pc1TicksTuned, yTicks: pc2TicksTuned, r: 1.8, tickSize: 19.5, xPad: 5, yPad: 3,
  xLabel: [821, 537], yLabel: [691.5, 408],
  colorOf: (a, b) => pointColor((a - 5 - Math.min(0, b) * 0.6) / 35, (b + 2 + (a < 5 ? (a - 5) * 0.18 : 0)) / 24)
});
scatter(scaledPoints, {
  xDom: [-110, 91], xRange: [1007.3, 1186.7], yDom: [-91.5, 90], yRange: [480.7, 310],
  xTicks: pc1TicksScaled, yTicks: pc2TicksScaled, r: 2.2, tickSize: 19.5, xPad: 5, yPad: 3,
  xLabel: [1095, 537], yLabel: [958, 408],
  colorOf: (a, b) => pointColor((a - 5 - Math.min(0, b) * 0.4) / 45, (b - 3 + (a > 5 ? (a - 5) * 0.15 : 0)) / 28)
});
</script>
</body>
</html>
